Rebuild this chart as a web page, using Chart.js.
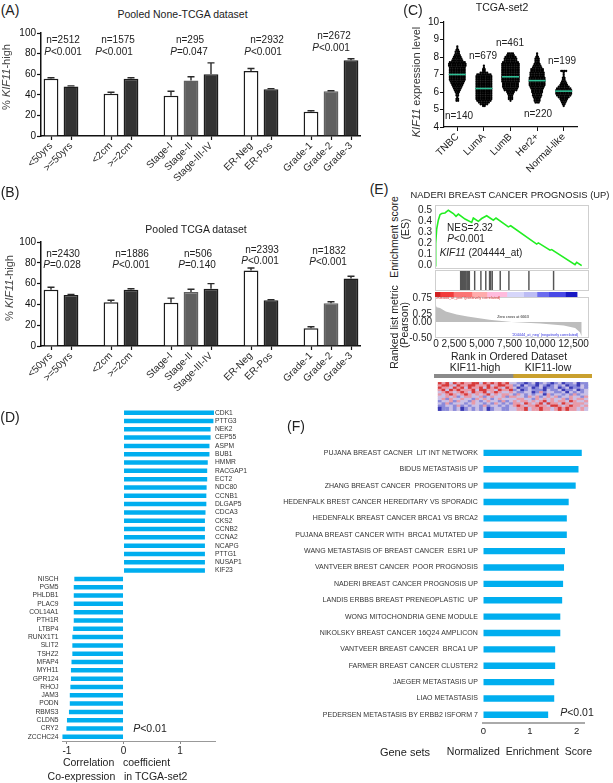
<!DOCTYPE html>
<html><head><meta charset="utf-8">
<script src="https://cdn.jsdelivr.net/npm/chart.js@4"></script>
<style>
html,body{margin:0;padding:0;background:#fff;width:613px;height:783px;overflow:hidden}
canvas{position:absolute;display:block}
.t{position:absolute;font-family:"Liberation Sans",Arial,sans-serif;color:#222;white-space:pre;line-height:1;transform:translate(-50%,-50%);z-index:5}
</style></head><body>
<script>
// ---------- data ----------
const barCategories = ['<50yrs','>=50yrs','','<2cm','>=2cm','','Stage-I','Stage-II','Stage-III-IV','','ER-Neg','ER-Pos','','Grade-1','Grade-2','Grade-3'];
const barKinds      = ['w','d','','w','d','','w','g','d','','w','d','','w','g','d'];
const valuesA = [55.5,48,null,41,55.5,null,39,54,60,null,63,45.5,null,23.5,43.5,73.5];
const errTopA = [56.5,48.7,null,42.5,56.5,null,43.5,57.5,71,null,65.5,46,null,24.5,44,75];
const valuesB = [54,49,null,42,54,null,41.5,52,55,null,72.5,44,null,17,41,65];
const errTopB = [56.5,49.5,null,44,55,null,46,54.5,60,null,75,44.5,null,18.5,42.5,67];

const subtypes = ['TNBC','LumA','LumB','Her2+','Normal-like'];
const swarmLevels = [5.2,5.3,5.4,5.5,5.6,5.7,5.8,5.9,6.0,6.1,6.2,6.3,6.4,6.5,6.6,6.7,6.8,6.9,7.0,7.1,7.2,7.3,7.4,7.5,7.6,7.7,7.8,7.9,8.0,8.1,8.2,8.3,8.4,8.5,8.6];
const swarmTNBC   = [0,0,0,2,2,1,2,2,3,4,5,6,7,8,9,10,10,10,10,10,10,10,10,11,11,10,7,6,5,4,3,3,2,1,1];
const swarmLumA   = [2,5,7,9,10,10,10,10,10,10,10,10,10,10,10,10,10,10,9,5,2,2,1,1,0,0,0,0,0,0,0,0,0,0,0];
const swarmLumB   = [0,0,0,1,3,3,3,4,5,8,9,10,10,10,11,11,11,11,11,11,11,11,11,11,11,10,8,8,7,5,4,0,0,0,0];
const swarmHer2   = [0,0,3,4,4,5,6,6,7,7,8,9,10,10,10,10,10,9,9,9,8,8,6,5,4,3,3,3,2,1,1,0,0,0,0];
const swarmNormal = [1,2,3,4,5,7,9,10,10,10,9,7,5,4,3,2,2,1,1,1,4,0,0,0,0,0,0,0,0,0,0,0,0,0,0];
const subtypeMeans = [7.0,6.2,6.87,6.65,6.05];

const esRanks  = [0,61,154,307,460,614,921,1228,1688,1934,2149,2763,3377,3530,3991,4298,4758,5372,5618,6754,6969,9363,9516,10591,10745,12894,13047,13508];
const esScores = [0,.2,.33,.41,.46,.47,.475,.5,.47,.445,.465,.42,.39,.43,.40,.425,.45,.41,.43,.35,.36,.195,.205,.14,.145,.01,.03,0];
const hitRanks = [0,61,123,184,246,307,368,460,553,614,706,860,982,1074,1197,1934,2794,3469,3991,4144,4360,5465,6662,9425,12833];
const bandWidths = [460,1230,1690,1380,1840,1535,1230,1075,1535,1075];
const bandColors = ['#cf1f1f','#f23b3b','#fb7474','#ffabab','#ffbbdd','#d6d6fa','#bcbcf4','#6c6cee','#4a4ae6','#1a1ac4'];
const metricRanks  = [0,60,150,460,1000,2000,3000,5000,7060,9700,11860,12900,13350,13508];
const metricValues = [.78,.55,.46,.44,.33,.23,.17,.07,0,-.05,-.11,-.19,-.32,-.45];
const groupWidths = [1,1];
const groupColors = ['#8a8a8a','#c9a02e'];
const heatRows = [
'4342434334424343434221101201210120112011',
'3443243344333423443312021102101212011021',
'4332434243342434324320112012011201201121',
'3424343334244332433412012111021120112012',
'2343234324334234322321122013122112021212',
'3234323432323423233213212122031221213122',
'2232312332231232231332213231232312232213',
'2313223221323212322223322132323223132332',
'1223132213212322131232332323423233243223',
'2131222123221213212133243234243324323332',
'1122131212213122121234323343324432343323',
'0112120121212012211223342334332343433232'];
const heatColors = ['#3b3bb5','#8a8ada','#c9c0e6','#e89aa8','#d83a3a'];

const upGenes = ['CDK1','PTTG3','NEK2','CEP55','ASPM','BUB1','HMMR','RACGAP1','ECT2','NDC80','CCNB1','DLGAP5','CDCA3','CKS2','CCNB2','CCNA2','NCAPG','PTTG1','NUSAP1','KIF23'];
const upCorr = [1.6,1.59,1.54,1.54,1.52,1.52,1.49,1.48,1.48,1.47,1.465,1.465,1.45,1.44,1.44,1.44,1.44,1.44,1.44,1.44];
const downGenes = ['NISCH','PGM5','PHLDB1','PLAC9','COL14A1','PTH1R','LTBP4','RUNX1T1','SLIT2','TSHZ2','MFAP4','MYH11','GPR124','RHOJ','JAM3','PODN','RBMS3','CLDN5','CRY2','ZCCHC24'];
const downCorr = [-.87,-.88,-.88,-.88,-.88,-.88,-.89,-.905,-.905,-.905,-.92,-.93,-.93,-.94,-.95,-.95,-.965,-1.0,-1.01,-1.08];

const geneSets = ['PUJANA BREAST CACNER  LIT INT NETWORK','BIDUS METASTASIS UP','ZHANG BREAST CANCER  PROGENITORS UP','HEDENFALK BREST CANCER HEREDITARY VS SPORADIC','HEDENFALK BREAST CANCER BRCA1 VS BRCA2','PUJANA BREAST CANCER WITH  BRCA1 MUTATED UP','WANG METASTASIS OF BREAST CANCER  ESR1 UP','VANTVEER BREST CANCER  POOR PROGNOSIS','NADERI BREAST CANCER PROGNOSIS UP','LANDIS ERBBS BREAST PRENEOPLASTIC  UP','WONG MITOCHONDRIA GENE MODULE','NIKOLSKY BREAST CANCER 16Q24 AMPLICON','VANTVEER BREAST CANCER  BRCA1 UP','FARMER BREAST CANCER CLUSTER2','JAEGER METASTASIS UP','LIAO METASTASIS','PEDERSEN METASTASIS BY ERBB2 ISFORM 7'];
const nesValues = [2.11,2.04,1.98,1.83,1.79,1.79,1.75,1.73,1.71,1.69,1.65,1.65,1.54,1.54,1.52,1.52,1.39];

// ---------- helpers ----------
const FONT = '"Liberation Sans", Arial, sans-serif';
Chart.defaults.font.family = FONT;
Chart.defaults.color = '#222';
Chart.defaults.animation = false;
Chart.defaults.responsive = false;
Chart.defaults.events = [];
Chart.defaults.plugins.legend.display = false;
Chart.defaults.plugins.tooltip.enabled = false;

function txt(html,x,y,size,extra){
  const d=document.createElement('div');d.className='t';d.innerHTML=html;
  d.style.left=x+'px';d.style.top=y+'px';d.style.fontSize=size+'px';
  if(extra&&extra.rot)d.style.transform='translate(-50%,-50%) rotate(-90deg)';
  if(extra&&extra.color)d.style.color=extra.color;
  document.body.appendChild(d);
}
// box = canvas rect; area = plot rect in page pixels
function mk(box,area,cfg){
  const c=document.createElement('canvas');
  c.width=box.r-box.l;c.height=box.b-box.t;
  c.style.left=box.l+'px';c.style.top=box.t+'px';
  document.body.appendChild(c);
  cfg.options=cfg.options||{};
  cfg.options.layout={padding:{top:area.t-box.t,left:0,right:0,bottom:0}};
  const sc=cfg.options.scales;
  for(const k in sc){
    const s=sc[k];
    if(s.display===false){ if(k==='x') cfg.options.layout.padding.bottom=box.b-area.b; continue; }
    if(k[0]==='x') s.afterFit=a=>{a.height=box.b-area.b;};
    else if(s.position==='right') s.afterFit=a=>{a.width=box.r-area.r;};
    else s.afterFit=a=>{a.width=area.l-box.l;};
  }
  if(!Object.keys(sc).some(k=>k[0]!=='x'&&sc[k].position==='right')) cfg.options.layout.padding.right=box.r-area.r;
  return new Chart(c,cfg);
}
const frame=color=>({id:'frame',afterDraw(ch){const a=ch.chartArea,g=ch.ctx;g.save();g.strokeStyle=color;g.lineWidth=1;g.strokeRect(a.left+.5,a.top+.5,a.right-a.left-1,a.bottom-a.top-1);g.restore();}});

const fillOf={w:'#fff',g:'#606060',d:'#333333'};
const errorBars=tops=>({id:'err',afterDatasetsDraw(ch){
  const ys=ch.scales.y,g=ch.ctx,meta=ch.getDatasetMeta(0);
  g.save();g.strokeStyle='#2a2a2a';g.lineWidth=1.4;
  meta.data.forEach((el,i)=>{ if(tops[i]==null)return;
    const x=el.x,y0=ys.getPixelForValue(ch.data.datasets[0].data[i]),y1=ys.getPixelForValue(tops[i]);
    g.beginPath();g.moveTo(x,y0);g.lineTo(x,y1);g.moveTo(x-3.5,y1);g.lineTo(x+3.5,y1);g.stroke();});
  g.restore();}});

function groupedBars(box,area,vals,tops){
  mk(box,area,{type:'bar',
    data:{labels:barCategories,datasets:[{data:vals,
      backgroundColor:barKinds.map(k=>fillOf[k]||'#fff'),
      borderColor:barKinds.map(k=>k==='g'?'#606060':'#1c1c1c'),borderWidth:1.5,
      barPercentage:.74,categoryPercentage:1}]},
    options:{scales:{
      x:{type:'category',grid:{drawOnChartArea:false,offset:false,tickLength:4,tickWidth:1.2,
           tickColor:c=>barCategories[c.index]?'#111':'rgba(0,0,0,0)'},
         border:{color:'#111',width:1.5},
         ticks:{autoSkip:false,minRotation:45,maxRotation:45,font:{size:10},padding:0,color:'#2a2a2a'}},
      y:{min:0,max:100,grid:{drawOnChartArea:false,tickLength:4,tickColor:'#111',tickWidth:1.2},
         border:{color:'#111',width:1.5},
         ticks:{stepSize:20,font:{size:10},padding:1,color:'#111'}}}},
    plugins:[errorBars(tops)]});
}

// ---------- panel A / B ----------
groupedBars({l:0,t:20,r:361,b:195},{l:41,t:33,r:361,b:136},valuesA,errTopA);
groupedBars({l:0,t:230,r:361,b:395},{l:41,t:242,r:361,b:346},valuesB,errTopB);

txt('(A)',10,10,14);txt('(B)',10,192,14);
txt('Pooled None-TCGA dataset',182.5,13.5,10.5);
txt('Pooled TCGA dataset',196,229,10.5);
txt('% <i>KIF11</i>-high',6,77,11,{rot:1,color:'#444'});
txt('% <i>KIF11</i>-high',9,288,11,{rot:1,color:'#444'});
const annoA=[['n=2512',63,40],['<i>P</i>&lt;0.001',63,51.5],['n=1575',118,40],['<i>P</i>&lt;0.001',114,51.5],['n=295',190,40],['<i>P</i>=0.047',189,51.5],['n=2932',267,40],['<i>P</i>&lt;0.001',263,51.5],['n=2672',334,36],['<i>P</i>&lt;0.001',331,47.5]];
const annoB=[['n=2430',63,253.5],['<i>P</i>=0.028',62,264.5],['n=1886',132,253.5],['<i>P</i>&lt;0.001',131,264.5],['n=506',198,253.5],['<i>P</i>=0.140',197,264.5],['n=2393',262,249.5],['<i>P</i>&lt;0.001',260,260.5],['n=1832',329,251],['<i>P</i>&lt;0.001',328,262]];
annoA.concat(annoB).forEach(a=>txt(a[0],a[1],a[2],10));

// ---------- panel C ----------
const swarmAll=[swarmTNBC,swarmLumA,swarmLumB,swarmHer2,swarmNormal];
const swarmPts=[];
swarmAll.forEach((counts,i)=>counts.forEach((n,l)=>{for(let j=0;j<n;j++)swarmPts.push({x:i+(j-(n-1)/2)*.062,y:swarmLevels[l]});}));
mk({l:405,t:10,r:590,b:185},{l:444,t:22,r:577,b:127},{type:'scatter',
  data:{datasets:[
    {data:subtypeMeans.map((m,i)=>({x:i,y:m})),pointStyle:'line',pointRadius:8.5,pointBorderColor:'#2fbf95',pointBorderWidth:1.6,backgroundColor:'#2fbf95'},
    {data:swarmPts,pointRadius:1.15,backgroundColor:'#000',borderWidth:0}]},
  options:{scales:{
    x:{type:'linear',min:-.5,max:4.5,grid:{drawOnChartArea:false,tickLength:4,tickColor:'#111'},border:{color:'#111',width:1.2},
       afterBuildTicks:a=>{a.ticks=subtypes.map((_,i)=>({value:i}));},
       ticks:{autoSkip:false,minRotation:45,maxRotation:45,font:{size:10},padding:0,callback:v=>subtypes[v]}},
    y:{min:4,max:10,grid:{drawOnChartArea:false,tickLength:4,tickColor:'#111'},border:{color:'#111',width:1.2},
       ticks:{stepSize:1,font:{size:10},padding:1,color:'#111'}}}}});
txt('(C)',413,10,14);
txt('TCGA-set2',502,6.5,10.5);
txt('<i>KIF11</i> expression level',416,82,11,{rot:1,color:'#333'});
[['n=140',459,116],['n=679',483,56],['n=461',510,43],['n=220',538,114],['n=199',562,61]].forEach(a=>txt(a[0],a[1],a[2],10));

// ---------- panel E ----------
const RANK_MAX=14180;
mk({l:405,t:190,r:595,b:285},{l:435,t:205,r:589,b:269},{type:'scatter',
  data:{datasets:[{data:esRanks.map((x,i)=>({x,y:esScores[i]})),showLine:true,borderColor:'#22ee22',borderWidth:1.6,pointRadius:0,tension:0}]},
  options:{scales:{
    x:{type:'linear',min:0,max:RANK_MAX,display:false},
    y:{min:-.03,max:.547,grid:{display:false,drawTicks:false},border:{display:false},
       afterBuildTicks:a=>{a.ticks=[0,.1,.2,.3,.4,.5].map(value=>({value}));},
       ticks:{autoSkip:false,font:{size:10},padding:3,color:'#222',callback:v=>v.toFixed(1)}}}},
  plugins:[frame('#cfcfcf')]});
mk({l:435,t:270,r:589,b:291},{l:435,t:270,r:589,b:291},{type:'bar',
  data:{datasets:[{data:hitRanks.map(x=>({x,y:1})),backgroundColor:'#555',barThickness:.8}]},
  options:{parsing:{xAxisKey:'x',yAxisKey:'y'},scales:{x:{type:'linear',min:0,max:RANK_MAX,display:false},y:{min:0,max:1,display:false}}},
  plugins:[frame('#cfcfcf')]});
mk({l:435,t:292,r:582,b:297},{l:435,t:292,r:582,b:297},{type:'bar',
  data:{labels:[''],datasets:bandWidths.map((w,i)=>({data:[w],backgroundColor:bandColors[i],barPercentage:1,categoryPercentage:1}))},
  options:{indexAxis:'y',scales:{x:{stacked:true,min:0,max:13500,display:false},y:{stacked:true,display:false}}}});
mk({l:405,t:285,r:595,b:350},{l:435,t:297,r:589,b:338},{type:'scatter',
  data:{datasets:[{data:metricRanks.map((x,i)=>({x,y:metricValues[i]})),showLine:true,fill:'origin',borderWidth:0,borderColor:'#bdbdbd',backgroundColor:'#bdbdbd',pointRadius:0}]},
  options:{scales:{
    x:{type:'linear',min:0,max:RANK_MAX,display:false},
    y:{min:-.5,max:.78,grid:{display:false,drawTicks:false},border:{display:false},
       afterBuildTicks:a=>{a.ticks=[-.5,0,.25,.75].map(value=>({value}));},
       ticks:{autoSkip:false,font:{size:10},padding:3,color:'#222',callback:v=>v.toFixed(2)}}}},
  plugins:[frame('#cfcfcf')]});
// group strip + heatmap
mk({l:434,t:374,r:592,b:378},{l:434,t:374,r:592,b:378},{type:'bar',
  data:{labels:[''],datasets:groupWidths.map((w,i)=>({data:[w],backgroundColor:groupColors[i],barPercentage:1,categoryPercentage:1}))},
  options:{indexAxis:'y',scales:{x:{stacked:true,min:0,max:2,display:false},y:{stacked:true,display:false}}}});
const heatPts=[];
heatRows.forEach((row,r)=>[...row].forEach((ch,c)=>heatPts.push({x:c+.5,y:r+.5,v:+ch})));
mk({l:434,t:379,r:592,b:414},{l:434,t:379,r:592,b:414},{type:'scatter',
  data:{datasets:[{data:heatPts,pointStyle:'rect',pointRadius:2.9,borderWidth:0,backgroundColor:heatPts.map(p=>heatColors[p.v])}]},
  options:{clip:false,scales:{x:{type:'linear',min:0,max:40,display:false},y:{type:'linear',reverse:true,min:0,max:12,display:false}}}});

txt('(E)',379,189,14);
txt('NADERI BREAST CANCER PROGNOSIS (UP)',510,195,9.4);
txt('Enrichment score',394,237,10.5,{rot:1});
txt('(ES)',405,229,10.5,{rot:1});
txt('Ranked list metric',394,327,10.5,{rot:1});
txt('(Pearson)',404,325,10.5,{rot:1});
txt('NES=2.32',470,228,10);
txt('<i>P</i>&lt;0.001',466,239,10);
txt('<i>KIF11</i> (204444_at)',481,253,10);
txt('0 2,500 5,000 7,500 10,000 12,500',511,344,10);
txt('Rank in Ordered Dataset',509,355.5,10.5);
txt('KIF11-high',475,367,10.5);
txt('KIF11-low',548,367,10.5);
txt("'204444_at_pos' (positively correlated)",468,298.5,3.8,{color:'#e03030'});
txt('Zero cross at 6663',513,317.5,3.8,{color:'#222'});
txt("'204444_at_neg' (negatively correlated)",545,335.5,3.8,{color:'#3030e0'});

// ---------- panel D ----------
const geneLabels=upGenes.concat(downGenes);
const corrValues=upCorr.concat(downCorr);
const nUp=upGenes.length;
mk({l:0,t:400,r:262,b:760},{l:62,t:408.5,r:215,b:741},{type:'bar',
  data:{labels:geneLabels,datasets:[{data:corrValues,backgroundColor:'#00aeef',barPercentage:.54,categoryPercentage:1}]},
  options:{indexAxis:'y',scales:{
    x:{type:'linear',min:-1.088,max:1.618,grid:{drawOnChartArea:false,tickLength:3,tickColor:'#888'},border:{color:'#999',width:1},
       afterBuildTicks:a=>{a.ticks=[-1,0,1].map(value=>({value}));},
       ticks:{font:{size:10},padding:1,color:'#222'}},
    y:{type:'category',grid:{display:false,drawTicks:false},border:{display:false},
       ticks:{autoSkip:false,font:{size:6.7},padding:3.5,color:'#333',callback:(v,i)=>i>=nUp?geneLabels[i]:''}},
    y2:{type:'category',axis:'y',position:'right',labels:geneLabels,grid:{display:false,drawTicks:false},border:{display:false},
       ticks:{autoSkip:false,font:{size:6.7},padding:0,color:'#333',callback:(v,i)=>i<nUp?geneLabels[i]:''}}}}});
txt('(D)',10,417,14);
txt('<i>P</i>&lt;0.01',150,728,10.5);
txt('Correlation   coefficient',116.5,762,10.5);
txt('Co-expression   in TCGA-set2',117.5,776,10.5);

// ---------- panel F ----------
mk({l:260,t:435,r:590,b:745},{l:483.3,t:442,r:584,b:723},{type:'bar',
  data:{labels:geneSets,datasets:[{data:nesValues,backgroundColor:'#00aeef',barPercentage:.39,categoryPercentage:1}]},
  options:{indexAxis:'y',scales:{
    x:{type:'linear',min:0,max:2.158,grid:{display:false,drawTicks:false},border:{color:'#aaa',width:2},
       afterBuildTicks:a=>{a.ticks=[0,1,2].map(value=>({value}));},
       ticks:{font:{size:9.5},padding:3,color:'#222'}},
    y:{type:'category',grid:{display:false,drawTicks:false},border:{display:false},
       ticks:{autoSkip:false,font:{size:7},padding:5.5,color:'#333'}}}}});
txt('(F)',296,426,14);
txt('<i>P</i>&lt;0.01',577,712,10.5);
txt('Gene sets',405,752,11);
txt('Normalized  Enrichment  Score',519.5,751,10.5);
</script>
</body></html>
